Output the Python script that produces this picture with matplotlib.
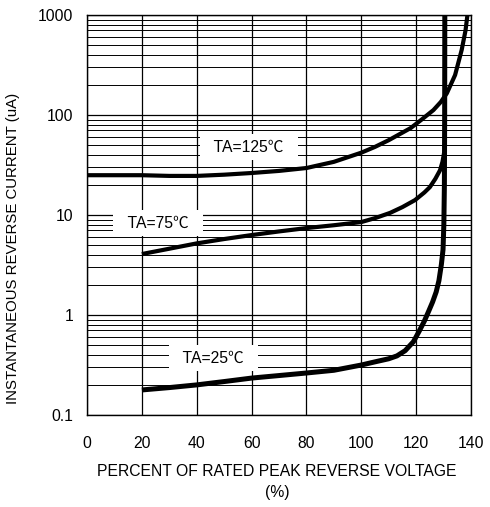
import matplotlib
matplotlib.use("Agg")
import matplotlib.pyplot as plt
from matplotlib.ticker import NullFormatter, LogLocator

# Data
x_125 = [0, 10, 20, 30, 40, 50, 60, 70, 80, 90, 100, 105, 110, 118, 122, 126.3, 129, 131.2, 134.2, 136.6, 138, 138.7]
y_125 = [25, 25, 25, 24.6, 24.6, 25.3, 26.3, 27.6, 29.5, 34, 42, 48, 56, 74, 90, 112, 135, 165, 251, 447, 700, 1000]

x_75 = [20, 30, 40, 50, 60, 70, 80, 90, 100, 105, 110.5, 115, 119.6, 123, 125, 127, 128.7, 129.6, 130.2]
y_75 = [4.07, 4.6, 5.2, 5.75, 6.3, 6.85, 7.4, 7.9, 8.5, 9.3, 10.5, 12.0, 14.1, 16.8, 19, 23, 28, 34, 42]

x_25 = [20, 30, 40, 50, 60, 70, 80, 90, 100, 105, 110, 113, 116, 119, 121, 123, 124.5, 126, 127.3, 128.3, 129.2, 129.8, 130.1, 130.3, 130.4, 130.45]
y_25 = [0.178, 0.188, 0.2, 0.216, 0.234, 0.248, 0.263, 0.28, 0.316, 0.34, 0.365, 0.39, 0.44, 0.54, 0.68, 0.87, 1.08, 1.35, 1.7, 2.2, 3.2, 4.5, 8, 20, 100, 1000]

labels = ["TA=125\u2103", "TA=75\u2103", "TA=25\u2103"]
label_x = [59, 25.9, 46.1]
label_y = [47.9, 8.3, 0.37]

x_ticks = [0, 20, 40, 60, 80, 100, 120, 140]
y_ticks = [0.1, 1, 10, 100, 1000]
y_ticklabels = ["0.1", "1", "10", "100", "1000"]

FONT = ["Liberation Sans", "Noto Sans CJK SC", "DejaVu Sans"]
plt.rcParams["font.family"] = FONT
FS = 11.3

W, H = 490, 507
fig = plt.figure(figsize=(W / 100, H / 100), dpi=100)
ax = fig.add_axes([87 / W, (H - 415) / H, (471 - 87) / W, (415 - 15) / H])

ax.set_yscale("log")
ax.set_xlim(0, 140)
ax.set_ylim(0.1, 1000)

ax.set_xticks(x_ticks)
ax.set_xticklabels([str(t) for t in x_ticks])
ax.set_yticks(y_ticks)
ax.set_yticklabels(y_ticklabels)
ax.yaxis.set_minor_locator(LogLocator(base=10, subs=range(2, 10)))
ax.yaxis.set_minor_formatter(NullFormatter())

ax.tick_params(axis="both", which="both", length=0, labelsize=FS, colors="black")
ax.tick_params(axis="x", pad=15)
ax.tick_params(axis="y", pad=10)

ax.set_axisbelow(True)
ax.grid(True, which="major", axis="both", color="black", linewidth=0.9)
ax.grid(True, which="minor", axis="y", color="black", linewidth=0.7)

for s in ax.spines.values():
    s.set_color("black")
    s.set_linewidth(1.0)

ax.plot(x_125, y_125, color="black", linewidth=3.0, solid_capstyle="butt", zorder=5)
ax.plot(x_75, y_75, color="black", linewidth=3.0, solid_capstyle="butt", zorder=5)
ax.plot(x_25, y_25, color="black", linewidth=3.6, solid_capstyle="butt", zorder=5)

for t, lx, ly in zip(labels, label_x, label_y):
    ax.text(lx, ly, "  " + t + "  ", ha="center", va="center", fontsize=FS,
            family=FONT, zorder=4,
            bbox=dict(boxstyle="square,pad=0.35", facecolor="white", edgecolor="none"))

fig.text(277 / W, 1 - 472 / H, "PERCENT OF RATED PEAK REVERSE VOLTAGE",
         ha="center", va="center", fontsize=FS)
fig.text(277 / W, 1 - 492 / H, "(%)", ha="center", va="center", fontsize=FS)
fig.text(13 / W, 1 - 248 / H, "INSTANTANEOUS REVERSE CURRENT (uA)",
         ha="center", va="center", rotation=90, fontsize=10.8)

fig.savefig("out.png", dpi=100, facecolor="white")
